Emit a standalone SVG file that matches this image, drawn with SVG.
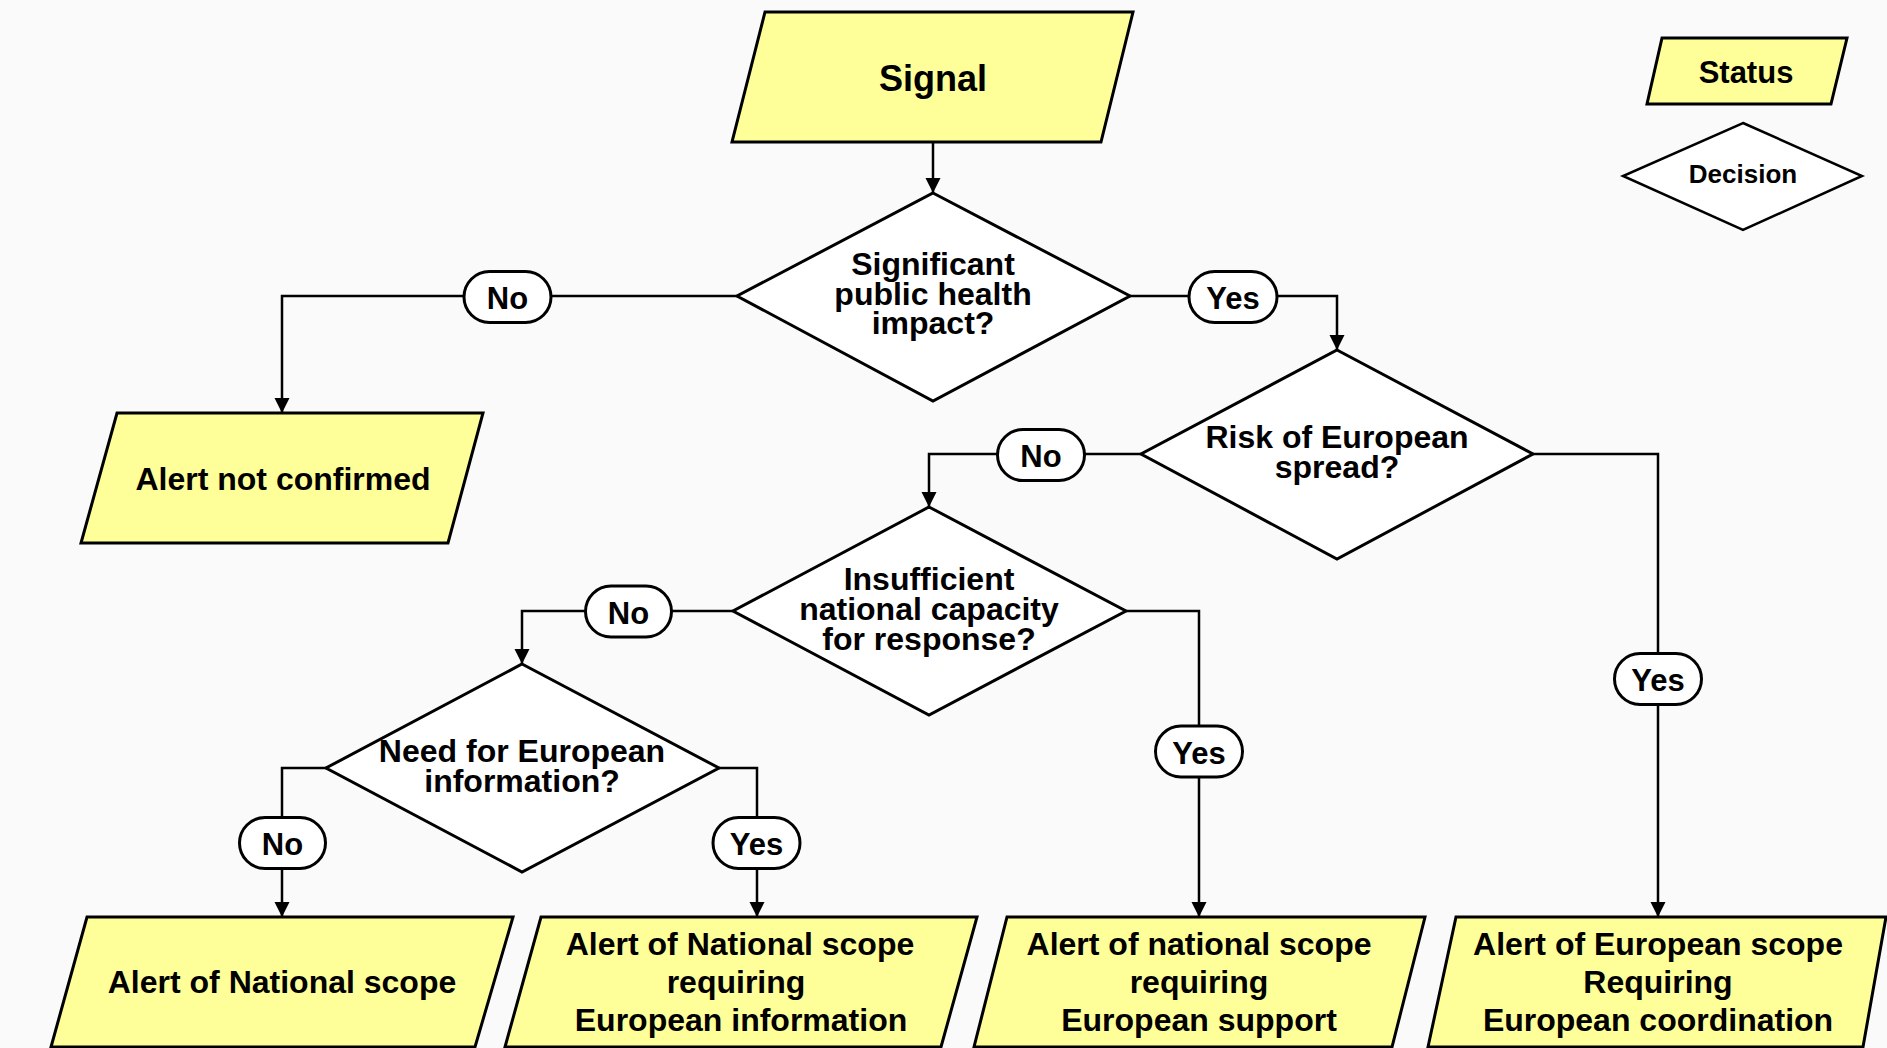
<svg xmlns="http://www.w3.org/2000/svg" width="1887" height="1048" viewBox="0 0 1887 1048">
  <style>
    .status { fill: #ffff99; stroke: #000; stroke-width: 3; stroke-linejoin: miter; }
    .decision { fill: #fff; stroke: #000; stroke-width: 3; stroke-linejoin: miter; }
    .pill { fill: #fff; stroke: #000; stroke-width: 3; }
    .wire { fill: none; stroke: #000; stroke-width: 2.5; }
    .t { font-family: "Liberation Sans", Arial, Helvetica, sans-serif; font-weight: bold; font-size: 32px; fill: #000; text-anchor: middle; }
    .lbl { font-size: 31px; }
  </style>
  <defs>
    <marker id="arrow" markerUnits="userSpaceOnUse" markerWidth="16" markerHeight="16" refX="15" refY="7.5" orient="auto">
      <path d="M0,0 L15,7.5 L0,15 z" fill="#000"/>
    </marker>
  </defs>

  <rect width="1887" height="1048" fill="#fafafa"/>

  <!-- connectors -->
  <g id="connectors">
    <path class="wire" d="M933,142 V193" marker-end="url(#arrow)"/>
    <path class="wire" d="M737,296 H282 V413" marker-end="url(#arrow)"/>
    <path class="wire" d="M1130,296 H1337 V350" marker-end="url(#arrow)"/>
    <path class="wire" d="M1141,454 H929 V507" marker-end="url(#arrow)"/>
    <path class="wire" d="M1533,454 H1658 V917" marker-end="url(#arrow)"/>
    <path class="wire" d="M733,611 H522 V664" marker-end="url(#arrow)"/>
    <path class="wire" d="M1126,611 H1199 V917" marker-end="url(#arrow)"/>
    <path class="wire" d="M326,768 H282 V917" marker-end="url(#arrow)"/>
    <path class="wire" d="M719,768 H757 V917" marker-end="url(#arrow)"/>

    <!-- branch labels -->
    <g id="label-d1-no"><rect class="pill" x="464" y="271.5" width="87" height="51" rx="25.5"/><text class="t lbl" x="507.5" y="309">No</text></g>
    <g id="label-d1-yes"><rect class="pill" x="1189" y="271.5" width="88" height="51" rx="25.5"/><text class="t lbl" x="1233" y="308.5">Yes</text></g>
    <g id="label-d2-no"><rect class="pill" x="997.5" y="429.5" width="87" height="51" rx="25.5"/><text class="t lbl" x="1041" y="467">No</text></g>
    <g id="label-d2-yes"><rect class="pill" x="1614.5" y="653.5" width="87" height="51" rx="25.5"/><text class="t lbl" x="1658" y="690.5">Yes</text></g>
    <g id="label-d3-no"><rect class="pill" x="585.5" y="586" width="86" height="51" rx="25.5"/><text class="t lbl" x="628.5" y="623.5">No</text></g>
    <g id="label-d3-yes"><rect class="pill" x="1155.5" y="726" width="87" height="51" rx="25.5"/><text class="t lbl" x="1199" y="763.5">Yes</text></g>
    <g id="label-d4-no"><rect class="pill" x="239.5" y="817.5" width="86" height="51" rx="25.5"/><text class="t lbl" x="282.5" y="855">No</text></g>
    <g id="label-d4-yes"><rect class="pill" x="713" y="817.5" width="87" height="51" rx="25.5"/><text class="t lbl" x="756.5" y="855">Yes</text></g>
  </g>

  <!-- start -->
  <g id="signal">
    <polygon class="status" points="765,12 1133,12 1101,142 732,142"/>
    <text class="t" x="933" y="91" style="font-size:36px">Signal</text>
  </g>

  <!-- decisions -->
  <g id="decision-impact">
    <polygon class="decision" points="933,193 1130,296 933,401 737,296"/>
    <text class="t" x="933" y="275">Significant</text>
    <text class="t" x="933" y="305">public health</text>
    <text class="t" x="933" y="334">impact?</text>
  </g>
  <g id="decision-spread">
    <polygon class="decision" points="1337,350 1533,454 1337,559 1141,454"/>
    <text class="t" x="1337" y="448">Risk of European</text>
    <text class="t" x="1337" y="478">spread?</text>
  </g>
  <g id="decision-capacity">
    <polygon class="decision" points="929,507 1126,611 929,715 733,611"/>
    <text class="t" x="929" y="590">Insufficient</text>
    <text class="t" x="929" y="620">national capacity</text>
    <text class="t" x="929" y="650">for response?</text>
  </g>
  <g id="decision-information">
    <polygon class="decision" points="522,664 719,768 522,872 326,768"/>
    <text class="t" x="522" y="762">Need for European</text>
    <text class="t" x="522" y="792">information?</text>
  </g>

  <!-- outcomes -->
  <g id="alert-not-confirmed">
    <polygon class="status" points="117,413 483,413 448,543 81,543"/>
    <text class="t" x="283" y="490">Alert not confirmed</text>
  </g>
  <g id="alert-national">
    <polygon class="status" points="87,917 513,917 475,1047 51,1047"/>
    <text class="t" x="282" y="993">Alert of National scope</text>
  </g>
  <g id="alert-national-information">
    <polygon class="status" points="541,917 977,917 941,1047 505,1047"/>
    <text class="t" x="740" y="955">Alert of National scope</text>
    <text class="t" x="736" y="993">requiring</text>
    <text class="t" x="741" y="1031">European information</text>
  </g>
  <g id="alert-national-support">
    <polygon class="status" points="1007,917 1425,917 1392,1047 974,1047"/>
    <text class="t" x="1199" y="955">Alert of national scope</text>
    <text class="t" x="1199" y="993">requiring</text>
    <text class="t" x="1199" y="1031">European support</text>
  </g>
  <g id="alert-european">
    <polygon class="status" points="1456,917 1886,917 1863,1047 1428,1047"/>
    <text class="t" x="1658" y="955">Alert of European scope</text>
    <text class="t" x="1658" y="993">Requiring</text>
    <text class="t" x="1658" y="1031">European coordination</text>
  </g>

  <!-- key -->
  <g id="legend-status">
    <polygon class="status" points="1662,38 1847,38 1831,104 1647,104"/>
    <text class="t" x="1746" y="83" style="font-size:31px">Status</text>
  </g>
  <g id="legend-decision">
    <polygon class="decision" points="1743,123 1862,176 1743,230 1623,176" style="stroke-width:2.5"/>
    <text class="t" x="1743" y="183" style="font-size:26px">Decision</text>
  </g>
</svg>
